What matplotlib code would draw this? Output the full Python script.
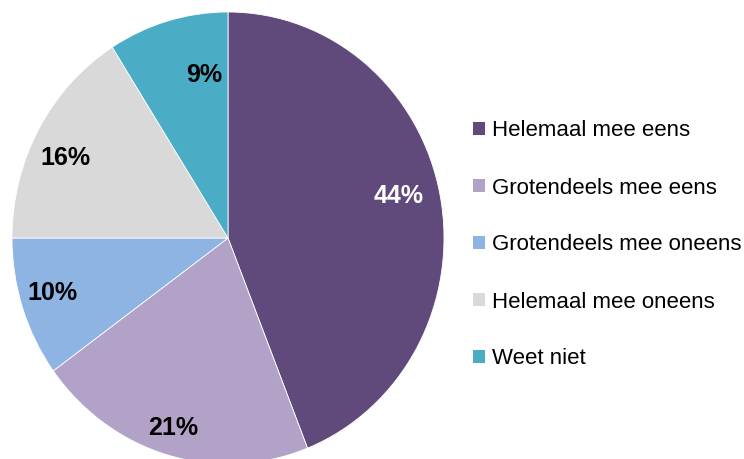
import matplotlib
matplotlib.use("Agg")
import matplotlib.pyplot as plt
import numpy as np
from matplotlib.patches import Patch

plt.rcParams['font.family'] = ['Liberation Sans', 'DejaVu Sans']

categories = ["Helemaal mee eens", "Grotendeels mee eens", "Grotendeels mee oneens",
              "Helemaal mee oneens", "Weet niet"]
values = [44, 21, 10, 16, 9]
colors = ["#604A7B", "#B3A2C7", "#8EB4E3", "#D9D9D9", "#4BACC6"]
label_colors = ["white", "black", "black", "black", "black"]
label_radius = [0.81, 0.88, 0.85, 0.83, 0.73]
label_angle_shift = [2.4, -0.7, -1.4, 3.7, -7.4]

W, H = 744, 459
fig = plt.figure(figsize=(W / 100, H / 100), dpi=100)
cx, cy, rx, ry = 228, 238, 216, 226
ax = fig.add_axes([(cx - rx) / W, (H - cy - ry) / H, 2 * rx / W, 2 * ry / H])
wedges, _ = ax.pie(values, colors=colors, startangle=90, counterclock=False,
                   radius=1, wedgeprops=dict(linewidth=0.6, edgecolor="white"))
ax.set_xlim(-1, 1)
ax.set_ylim(-1, 1)
ax.set_aspect('auto')

for w, v, c, rr, sh in zip(wedges, values, label_colors, label_radius, label_angle_shift):
    ang = np.deg2rad((w.theta1 + w.theta2) / 2 + sh)
    ax.text(rr * np.cos(ang), rr * np.sin(ang), f"{v}%", ha="center", va="center",
            fontsize=18, fontweight="bold", color=c)

handles = [Patch(facecolor=c, edgecolor="none") for c in colors]
fig.legend(handles, categories, loc="center left", bbox_to_anchor=(462 / W, 1 - 245 / H),
           frameon=False, fontsize=16, handlelength=0.55, handleheight=0.55,
           handletextpad=0.3, labelspacing=1.62, borderpad=0)

fig.savefig("out.png", dpi=100)
